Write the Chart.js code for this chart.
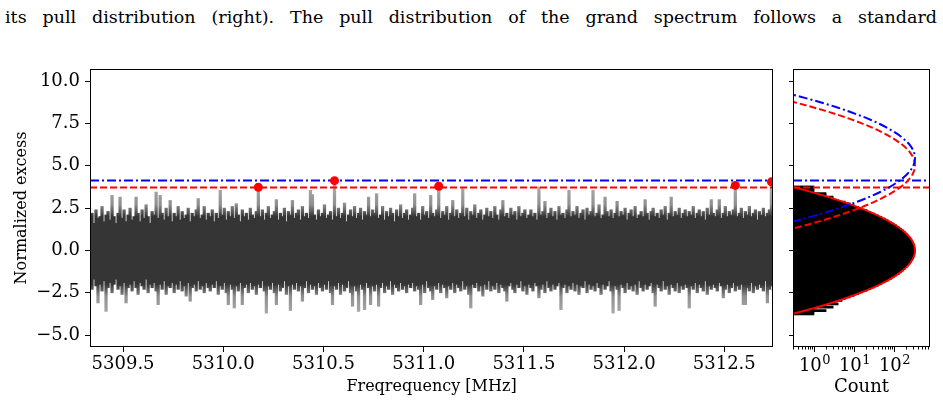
<!DOCTYPE html>
<html>
<head>
<meta charset="utf-8">
<script src="https://cdn.jsdelivr.net/npm/chart.js@4.4.0/dist/chart.umd.min.js"></script>
<style>
  html, body { margin: 0; padding: 0; background: #fff; }
  #page { position: relative; width: 943px; height: 402px; overflow: hidden; }
  #caption { position: absolute; left: 5px; top: 3px; font: 17.5px "DejaVu Serif", serif; white-space: nowrap; line-height: 28px; color: #000; }
  #left { position: absolute; left: 0; top: 0; }
  #right { position: absolute; left: 780px; top: 0; }
</style>
</head>
<body>
<div id="page">
  <div id="caption">its pull distribution (right). The pull distribution of the grand spectrum follows a standard</div>
  <canvas id="left" width="780" height="402"></canvas>
  <canvas id="right" width="163" height="402"></canvas>
</div>
<script>
// spectrum, one bin every 0.01 MHz from 5309.335: highest / lowest excess in the bin
const freqStart = 5309.335;
const freqStep = 0.01;
const noiseHi = [
  1.8, 2.2, 1.6, 2.4, 1.9, 2.0, 2.6, 1.7, 2.1, 2.3, 1.8, 3.25, 2.0, 1.6, 2.2, 3.15, 1.9, 2.4, 1.7, 2.1,
  2.5, 1.8, 2.0, 3.15, 2.2, 1.7, 2.4, 1.9, 2.7, 2.0, 1.6, 2.3, 2.1, 3.45, 1.9, 3.25, 2.2, 1.8, 2.5, 2.0,
  2.95, 1.7, 2.2, 2.0, 2.6, 1.8, 2.3, 1.9, 2.1, 2.5, 1.7, 2.2, 2.0, 2.4, 3.06, 1.9, 2.1, 2.6, 1.8, 2.2,
  2.0, 2.4, 1.7, 2.2, 1.9, 3.55, 2.1, 2.5, 1.8, 2.3, 2.0, 2.6, 1.9, 2.76, 2.1, 1.7, 2.4, 2.0, 2.2, 1.8,
  2.5, 2.1, 1.9, 2.3, 3.73, 2.0, 2.4, 1.8, 2.2, 2.6, 1.9, 2.1, 2.3, 3.0, 1.8, 2.2, 2.0, 2.5, 1.7, 2.3,
  2.1, 2.95, 1.9, 2.2, 2.4, 1.8, 2.6, 2.0, 2.2, 1.9, 3.55, 3.3, 2.1, 1.8, 2.4, 2.0, 2.2, 2.7, 1.9, 2.1,
  2.3, 1.8, 4.12, 2.0, 2.5, 1.9, 2.2, 2.8, 1.7, 2.1, 2.4, 2.0, 2.6, 1.9, 2.2, 2.5, 1.8, 2.3, 2.1, 3.15,
  2.0, 2.4, 2.2, 3.35, 1.9, 2.1, 2.6, 1.8, 2.3, 2.0, 2.5, 2.2, 1.7, 2.4, 2.0, 2.7, 1.9, 2.2, 2.4, 1.8,
  2.1, 2.5, 3.35, 2.0, 2.2, 1.8, 2.6, 2.1, 2.3, 1.9, 3.25, 2.2, 2.0, 2.4, 3.79, 1.9, 2.3, 2.1, 2.6, 1.8,
  2.2, 2.95, 2.0, 2.4, 1.9, 2.2, 3.65, 2.0, 2.5, 1.8, 2.3, 2.1, 2.7, 1.9, 2.2, 2.4, 1.8, 2.1, 2.5, 2.0,
  2.3, 1.9, 2.6, 2.1, 1.8, 2.4, 2.95, 2.0, 2.2, 1.9, 2.5, 2.1, 2.3, 1.8, 2.6, 2.0, 2.2, 2.4, 1.9, 2.1,
  2.4, 2.0, 2.2, 1.8, 3.75, 2.1, 2.3, 2.9, 1.9, 2.2, 2.5, 2.0, 2.3, 1.8, 2.6, 2.1, 2.2, 1.9, 2.4, 3.55,
  2.0, 2.3, 2.1, 2.6, 1.9, 2.2, 2.4, 1.8, 2.5, 2.1, 2.3, 3.55, 2.0, 2.2, 2.7, 1.9, 2.1, 3.15, 2.3, 2.0,
  2.4, 1.9, 2.2, 2.9, 2.0, 2.3, 2.1, 2.5, 1.8, 2.2, 2.4, 2.0, 2.6, 1.9, 2.1, 2.3, 2.0, 3.0, 2.2, 1.8,
  2.3, 2.5, 2.0, 2.2, 1.9, 2.4, 2.1, 2.6, 1.8, 2.2, 3.15, 2.0, 2.3, 2.1, 2.5, 1.9, 2.2, 2.4, 2.0, 2.3,
  2.1, 2.6, 1.9, 2.2, 2.4, 2.0, 2.3, 1.8, 2.5, 2.1, 3.0, 2.2, 2.0, 2.4, 3.0, 1.9, 2.2, 2.6, 2.0, 2.3,
  2.1, 2.4, 3.84, 2.0, 2.2, 2.5, 1.9, 2.3, 2.1, 2.6, 2.0, 2.2, 2.4, 1.8, 2.3, 2.1, 2.5, 2.0, 2.2, 2.4,
  4.05, 2.2
];
const noiseLo = [
  -1.9, -2.3, -1.7, -2.1, -3.1, -2.0, -2.4, -1.8, -3.6, -2.2, -1.9, -2.5, -2.0, -1.7, -2.3, -2.1, -2.6, -1.9, -3.1, -2.2,
  -2.0, -2.4, -1.8, -2.2, -2.6, -1.9, -2.1, -2.3, -1.7, -2.5, -2.0, -2.2, -1.9, -2.4, -3.2, -2.0, -2.3, -1.8, -2.6, -2.1,
  -2.2, -1.9, -2.5, -2.0, -2.3, -1.8, -2.4, -2.1, -2.7, -1.9, -3.0, -2.2, -2.0, -2.4, -1.8, -2.3, -2.1, -2.5, -1.9, -2.2,
  -2.4, -2.0, -2.2, -1.8, -2.6, -2.1, -2.3, -1.9, -2.5, -3.2, -2.0, -2.3, -3.4, -2.1, -2.4, -1.9, -3.2, -2.2, -2.0, -2.5,
  -1.9, -2.3, -2.1, -2.6, -2.0, -2.2, -1.8, -2.4, -3.7, -2.1, -2.3, -1.9, -2.5, -3.2, -2.0, -2.4, -2.2, -1.8, -2.6, -2.1,
  -3.55, -2.0, -2.3, -1.9, -2.4, -2.1, -3.0, -2.2, -1.8, -2.5, -2.0, -2.3, -2.1, -2.6, -1.9, -2.2, -2.4, -2.0, -2.3, -1.8,
  -2.5, -3.2, -2.1, -2.3, -1.9, -2.6, -2.0, -2.4, -2.2, -1.8, -2.5, -3.3, -2.1, -2.4, -3.6, -2.0, -2.3, -3.5, -1.9, -2.2,
  -3.2, -2.1, -2.4, -2.0, -3.3, -2.2, -1.9, -2.5, -2.1, -2.3, -1.8, -2.6, -2.0, -2.2, -2.4, -1.9, -2.3, -2.1, -2.5, -2.0,
  -2.2, -1.9, -2.4, -2.1, -2.3, -3.2, -2.0, -2.5, -1.8, -2.2, -2.4, -2.9, -2.1, -2.3, -1.9, -2.5, -2.0, -2.2, -2.8, -2.1,
  -2.3, -1.9, -2.5, -2.0, -2.2, -2.4, -1.8, -2.3, -2.1, -2.6, -3.4, -2.0, -2.2, -1.9, -2.4, -2.1, -2.7, -2.0, -2.3, -1.8,
  -2.4, -2.1, -2.3, -1.9, -2.5, -2.0, -2.2, -2.4, -3.0, -2.1, -1.9, -2.3, -2.5, -2.0, -2.2, -1.8, -2.4, -2.1, -2.6, -2.0,
  -2.2, -2.4, -1.9, -2.1, -2.8, -2.3, -2.0, -2.5, -1.8, -2.2, -2.4, -2.0, -2.3, -2.1, -1.9, -3.5, -2.2, -2.0, -2.5, -2.1,
  -2.3, -1.9, -2.4, -2.0, -2.6, -2.1, -2.2, -1.8, -2.5, -2.0, -2.3, -2.1, -2.4, -1.9, -2.2, -2.6, -2.0, -2.3, -2.1, -1.8,
  -2.4, -3.7, -2.1, -2.3, -3.55, -2.0, -2.2, -2.5, -1.9, -2.3, -2.1, -2.4, -2.0, -2.6, -1.8, -2.2, -2.4, -2.0, -2.3, -2.1,
  -1.9, -2.5, -3.3, -2.0, -2.2, -2.4, -1.8, -2.3, -2.1, -2.6, -2.0, -2.2, -2.4, -1.9, -2.5, -2.1, -2.3, -2.0, -2.2, -3.4,
  -2.1, -2.3, -1.9, -2.5, -2.0, -2.2, -2.4, -1.8, -2.6, -2.1, -2.3, -2.0, -2.2, -2.4, -1.9, -2.1, -2.8, -2.3, -2.0, -2.5,
  -2.2, -1.9, -2.4, -2.1, -2.3, -2.0, -3.2, -3.2, -2.2, -2.4, -1.9, -2.5, -2.1, -2.3, -2.0, -2.2, -2.4, -1.8, -3.1, -2.3,
  -2.1, -2.4
];

// candidates above threshold
const peakFreq = [5310.175, 5310.555, 5311.075, 5312.555, 5312.735];
const peakVal = [3.73, 4.12, 3.79, 3.84, 4.05];
const redThreshold = 3.71;
const blueThreshold = 4.13;

// pull histogram (bin centres and counts)
const histCenter = [
  -3.75, -3.65, -3.55, -3.45, -3.35, -3.25, -3.15, -3.05, -2.95, -2.85,
  -2.75, -2.65, -2.55, -2.45, -2.35, -2.25, -2.15, -2.05, -1.95, -1.85,
  -1.75, -1.65, -1.55, -1.45, -1.35, -1.25, -1.15, -1.05, -0.95, -0.85,
  -0.75, -0.65, -0.55, -0.45, -0.35, -0.25, -0.15, -0.05, 0.05, 0.15,
  0.25, 0.35, 0.45, 0.55, 0.65, 0.75, 0.85, 0.95, 1.05, 1.15,
  1.25, 1.35, 1.45, 1.55, 1.65, 1.75, 1.85, 1.95, 2.05, 2.15,
  2.25, 2.35, 2.45, 2.55, 2.65, 2.75, 2.85, 2.95, 3.05, 3.15,
  3.25, 3.35, 3.45, 3.55, 3.65, 3.75
];
const histCount = [
  1, 1, 2, 1, 3, 2, 4, 3, 5, 6,
  8, 10, 13, 16, 21, 26, 33, 40, 49, 60,
  71, 85, 99, 115, 133, 151, 170, 190, 210, 230,
  249, 267, 282, 298, 310, 320, 326, 330, 329, 326,
  319, 310, 297, 282, 267, 249, 230, 210, 190, 170,
  151, 133, 115, 99, 85, 71, 60, 49, 40, 33,
  26, 21, 16, 13, 10, 8, 6, 4, 3, 3,
  2, 2, 1, 1, 1, 1
];
// gaussian fit read along the pull axis
const fitY = [-4, -3.75, -3.5, -3.25, -3, -2.75, -2.5, -2.25, -2, -1.75, -1.5, -1.25, -1, -0.75, -0.5, -0.25,
  0, 0.25, 0.5, 0.75, 1, 1.25, 1.5, 1.75, 2, 2.25, 2.5, 2.75, 3, 3.25, 3.5, 3.75, 4];
const fitCount = [0.11, 0.29, 0.72, 1.68, 3.67, 7.52, 14.5, 26.3, 44.7, 71.4, 107.1, 151.1, 200.2, 249.1, 291.2, 319.8,
  330, 319.8, 291.2, 249.1, 200.2, 151.1, 107.1, 71.4, 44.7, 26.3, 14.5, 7.52, 3.67, 1.68, 0.72, 0.29, 0.11];
const redCurveCenter = 5.03;
const blueCurveCenter = 5.45;

const yTicks = [-5, -2.5, 0, 2.5, 5, 7.5, 10];
const xTicks = [5309.5, 5310.0, 5310.5, 5311.0, 5311.5, 5312.0, 5312.5];
const xMin = 5309.335, xMax = 5312.743;
const yMin = -5.7, yMax = 10.71;
const countMin = 0.3, countMax = 780;

const tickFont = { family: 'DejaVu Serif', size: 18 };
const fmt = v => v.toFixed(1).replace('-', '\u2212');

const frame = {
  id: 'frame',
  afterDatasetsDraw(chart) {
    const a = chart.chartArea, ctx = chart.ctx;
    ctx.save();
    ctx.strokeStyle = '#000';
    ctx.lineWidth = 1;
    ctx.strokeRect(a.left + 0.5, a.top + 0.5, a.width - 1, a.height - 1);
    ctx.restore();
  }
};

// thin trace: dark in the bulk, greyer towards the isolated peaks
function traceFill(c) {
  const chart = c.chart;
  if (!chart.chartArea) return '#333333';
  const ys = chart.scales.y;
  const top = ys.getPixelForValue(4), bot = ys.getPixelForValue(-4);
  const g = chart.ctx.createLinearGradient(0, top, 0, bot);
  g.addColorStop(0, '#b0b0b0');
  g.addColorStop(0.16, '#909090');
  g.addColorStop(0.25, '#353535');
  g.addColorStop(0.75, '#353535');
  g.addColorStop(0.84, '#909090');
  g.addColorStop(1, '#b0b0b0');
  return g;
}

const spectrum = noiseHi.map((hi, i) => ({ x: freqStart + freqStep * i, y: [noiseLo[i], hi] }));

new Chart(document.getElementById('left'), {
  type: 'bar',
  data: {
    datasets: [
      {
        type: 'line', order: 0,
        data: peakFreq.map((f, i) => ({ x: f, y: peakVal[i] })),
        showLine: false, pointRadius: 4.5, pointBackgroundColor: '#ff0000', pointBorderColor: '#ff0000', pointBorderWidth: 0
      },
      {
        type: 'line', order: 1,
        data: [{ x: xMin, y: blueThreshold }, { x: xMax, y: blueThreshold }],
        borderColor: '#0000ff', borderWidth: 2, borderDash: [9, 3, 2, 3], pointRadius: 0
      },
      {
        type: 'line', order: 2,
        data: [{ x: xMin, y: redThreshold }, { x: xMax, y: redThreshold }],
        borderColor: '#ff0000', borderWidth: 2, borderDash: [7, 3], pointRadius: 0
      },
      {
        order: 3,
        data: spectrum,
        backgroundColor: traceFill, borderWidth: 0, barThickness: 2.6
      }
    ]
  },
  options: {
    responsive: false,
    animation: false,
    layout: { padding: { top: 69, right: 7, left: 0, bottom: 0 } },
    plugins: { legend: { display: false }, tooltip: { enabled: false } },
    scales: {
      x: {
        type: 'linear', min: xMin, max: xMax, offset: false,
        afterBuildTicks: s => { s.ticks = xTicks.map(v => ({ value: v })); },
        afterFit: s => { s.height = 55; },
        border: { display: false },
        grid: { offset: false, drawOnChartArea: false, tickLength: 5, color: '#000' },
        ticks: { color: '#000', font: tickFont, padding: 2, maxRotation: 0, autoSkip: false, callback: v => fmt(v) },
        title: { display: true, text: 'Freqrequency [MHz]', color: '#000', font: { family: 'DejaVu Serif', size: 16 }, padding: { top: 0, bottom: 6 } }
      },
      y: {
        type: 'linear', min: yMin, max: yMax,
        afterBuildTicks: s => { s.ticks = yTicks.map(v => ({ value: v })); },
        afterFit: s => { s.width = 90; },
        border: { display: false },
        grid: { drawOnChartArea: false, tickLength: 5, color: '#000' },
        ticks: { color: '#000', font: tickFont, padding: 5, callback: v => fmt(v) },
        title: { display: true, text: 'Normalized excess', color: '#000', font: { family: 'DejaVu Serif', size: 16 }, padding: { top: 12, bottom: 0 } }
      }
    }
  },
  plugins: [frame]
});

const isPow10 = v => Math.abs(Math.log10(v) - Math.round(Math.log10(v))) < 1e-6;

// log axis: long marks at decades, short ones between, labels as 10 with raised exponent
const logTicks = {
  id: 'logTicks',
  afterDraw(chart) {
    const sc = chart.scales.x, ctx = chart.ctx, y0 = chart.chartArea.bottom;
    ctx.save();
    ctx.strokeStyle = '#000';
    ctx.fillStyle = '#000';
    ctx.lineWidth = 1;
    sc.ticks.forEach(t => {
      const major = isPow10(t.value);
      const px = Math.round(sc.getPixelForValue(t.value)) + 0.5;
      ctx.beginPath();
      ctx.moveTo(px, y0);
      ctx.lineTo(px, y0 + (major ? 5 : 2.5));
      ctx.stroke();
      if (!major) return;
      const base = '10', exp = String(Math.round(Math.log10(t.value)));
      ctx.font = '18px "DejaVu Serif"';
      const w1 = ctx.measureText(base).width;
      ctx.font = '13px "DejaVu Serif"';
      const w2 = ctx.measureText(exp).width;
      const x0 = px - (w1 + w2) / 2;
      ctx.textBaseline = 'alphabetic';
      ctx.textAlign = 'left';
      ctx.font = '18px "DejaVu Serif"';
      ctx.fillText(base, x0, y0 + 24);
      ctx.font = '13px "DejaVu Serif"';
      ctx.fillText(exp, x0 + w1 + 0.5, y0 + 17);
    });
    ctx.restore();
  }
};

new Chart(document.getElementById('right'), {
  type: 'bar',
  data: {
    datasets: [
      {
        type: 'line', order: 0,
        data: fitY.map((y, i) => ({ x: fitCount[i], y: y + blueCurveCenter })),
        borderColor: '#0000ff', borderWidth: 2, borderDash: [9, 3, 2, 3], pointRadius: 0, cubicInterpolationMode: 'monotone'
      },
      {
        type: 'line', order: 1,
        data: fitY.map((y, i) => ({ x: fitCount[i], y: y + redCurveCenter })),
        borderColor: '#ff0000', borderWidth: 2, borderDash: [7, 3], pointRadius: 0, cubicInterpolationMode: 'monotone'
      },
      {
        type: 'line', order: 2,
        data: [{ x: countMin, y: blueThreshold }, { x: countMax, y: blueThreshold }],
        borderColor: '#0000ff', borderWidth: 2, borderDash: [9, 3, 2, 3], pointRadius: 0
      },
      {
        type: 'line', order: 3,
        data: [{ x: countMin, y: redThreshold }, { x: countMax, y: redThreshold }],
        borderColor: '#ff0000', borderWidth: 2, borderDash: [7, 3], pointRadius: 0
      },
      {
        type: 'line', order: 4,
        data: fitY.map((y, i) => ({ x: fitCount[i], y: y })),
        borderColor: '#ff0000', borderWidth: 2, pointRadius: 0, cubicInterpolationMode: 'monotone'
      },
      {
        order: 5,
        data: histCenter.map((y, i) => ({ x: histCount[i], y: y })),
        backgroundColor: '#000000', borderWidth: 0, barThickness: 2
      }
    ]
  },
  options: {
    indexAxis: 'y',
    responsive: false,
    animation: false,
    layout: { padding: { top: 69, right: 13, left: 0, bottom: 0 } },
    plugins: { legend: { display: false }, tooltip: { enabled: false } },
    scales: {
      x: {
        type: 'logarithmic', min: countMin, max: countMax, offset: false,
        afterBuildTicks: s => {
          const t = [];
          [0.1, 1, 10, 100].forEach(d => { for (let m = 1; m <= 9; m++) { const v = +(m * d).toPrecision(3); if (v >= countMin && v <= countMax) t.push({ value: v }); } });
          s.ticks = t;
        },
        afterFit: s => { s.height = 55; },
        border: { display: false },
        grid: { display: false, drawTicks: false, offset: false },
        ticks: { display: false },
        title: { display: true, text: 'Count', color: '#000', font: { family: 'DejaVu Serif', size: 18 }, padding: { top: 0, bottom: 4 } }
      },
      y: {
        type: 'linear', min: yMin, max: yMax, offset: false,
        afterBuildTicks: s => { s.ticks = yTicks.map(v => ({ value: v })); },
        afterFit: s => { s.width = 13; },
        border: { display: false },
        grid: { offset: false, drawOnChartArea: false, tickLength: 4, color: '#000' },
        ticks: { display: false }
      }
    }
  },
  plugins: [frame, logTicks]
});

// stretch the caption line like a justified paragraph line
const cap = document.getElementById('caption');
const gaps = cap.textContent.split(' ').length - 1;
cap.style.wordSpacing = ((932 - cap.getBoundingClientRect().width) / gaps) + 'px';
</script>
</body>
</html>
